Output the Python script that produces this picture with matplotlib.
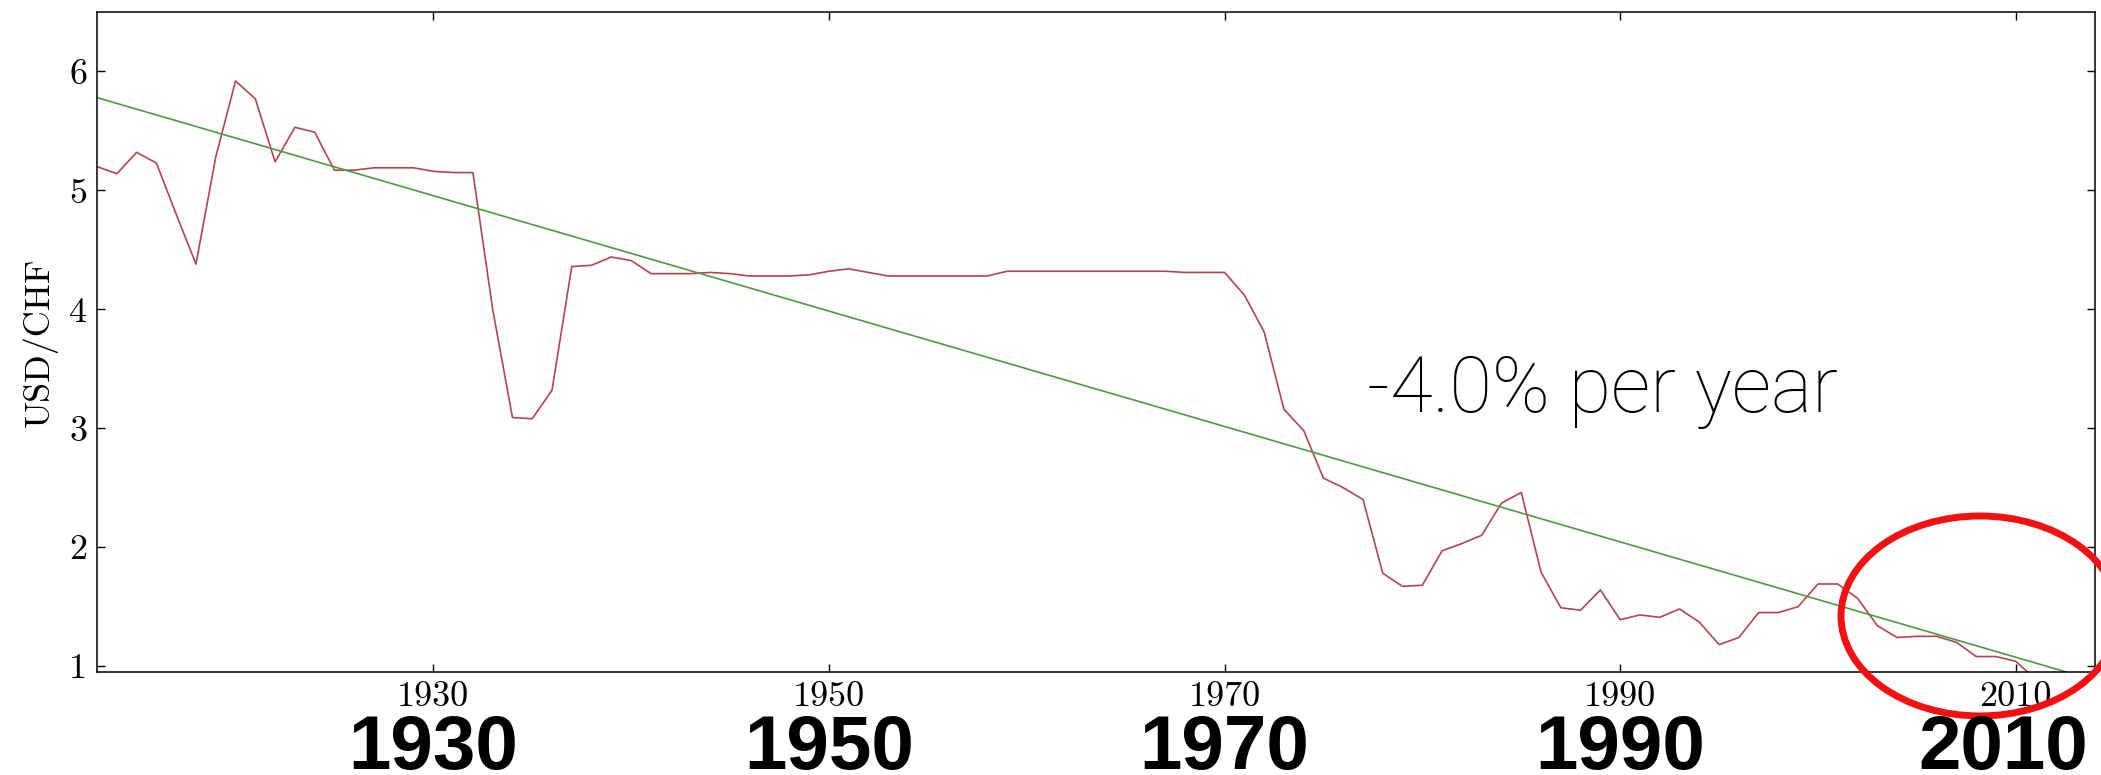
import numpy as np
import matplotlib
matplotlib.use('Agg')
import matplotlib.pyplot as plt
from matplotlib.patches import Ellipse

# USD/CHF yearly rate
years = list(range(1913, 2012))
usd_chf = [5.20, 5.14, 5.32, 5.23, 4.80, 4.38, 5.28, 5.92, 5.77, 5.24,
           5.53, 5.49, 5.17, 5.17, 5.19, 5.19, 5.19, 5.16, 5.15, 5.15,
           4.00, 3.09, 3.08, 3.32, 4.36, 4.37, 4.44, 4.41, 4.30, 4.30,
           4.30, 4.31, 4.30, 4.28, 4.28, 4.28, 4.29, 4.32, 4.34, 4.31,
           4.28, 4.28, 4.28, 4.28, 4.28, 4.28, 4.32, 4.32, 4.32, 4.32,
           4.32, 4.32, 4.32, 4.32, 4.32, 4.31, 4.31, 4.31, 4.12, 3.81,
           3.16, 2.98, 2.58, 2.50, 2.40, 1.78, 1.67, 1.68, 1.97, 2.03,
           2.10, 2.37, 2.46, 1.79, 1.49, 1.47, 1.64, 1.39, 1.43, 1.41,
           1.48, 1.37, 1.18, 1.24, 1.45, 1.45, 1.50, 1.69, 1.69, 1.57,
           1.34, 1.24, 1.25, 1.25, 1.20, 1.08, 1.08, 1.04, 0.89]

# trend line
trend_years = [1913, 2014]
trend_vals = [5.78, 0.88]

tick_years = [1930, 1950, 1970, 1990, 2010]
y_ticks = [1, 2, 3, 4, 5, 6]
note = '-4.0% per year'

plt.rcParams['font.family'] = 'serif'
plt.rcParams['font.serif'] = ['cmr10', 'DejaVu Serif']
plt.rcParams['axes.formatter.use_mathtext'] = True

fig = plt.figure(figsize=(21.01, 7.75), dpi=100)
ax = fig.add_axes([0.0462, 0.1329, 0.9509, 0.8516])

ax.plot(years, usd_chf, color='#b0464f', lw=1.2)
ax.plot(trend_years, trend_vals, color='#4e9a42', lw=1.2)

ax.set_xlim(1913, 2014)
ax.set_ylim(0.95, 6.5)
ax.set_xticks(tick_years)
ax.set_xticklabels([str(y) for y in tick_years])
ax.set_yticks(y_ticks)
ax.set_yticklabels([str(v) for v in y_ticks])
ax.tick_params(direction='in', length=6, width=1, labelsize=26, pad=7,
               top=True, right=True)
for s in ax.spines.values():
    s.set_linewidth(1.1)
ax.set_ylabel('USD/CHF', fontsize=26, labelpad=8)

# annotation text
fig.text(0.6506, 0.4684, note, fontsize=56, fontweight='light',
         family=['Roboto', 'Liberation Sans', 'DejaVu Sans'], va='baseline')

# big bold year labels under the axis
for y in tick_years:
    x_fig = fig.transFigure.inverted().transform(ax.transData.transform((y, 1)))[0]
    if y == tick_years[-1]:
        x_fig -= 0.006  # keep last one inside the figure
    fig.text(x_fig, 0.0075, str(y), fontsize=55, fontweight='bold',
             family=['Liberation Sans', 'DejaVu Sans'], ha='center', va='baseline')

# red circle marker
fig.add_artist(Ellipse((0.9424, 0.2052), 0.1323, 0.258, transform=fig.transFigure,
                       fill=False, edgecolor='#f21010', lw=5))

fig.savefig('out.png', dpi=100)
